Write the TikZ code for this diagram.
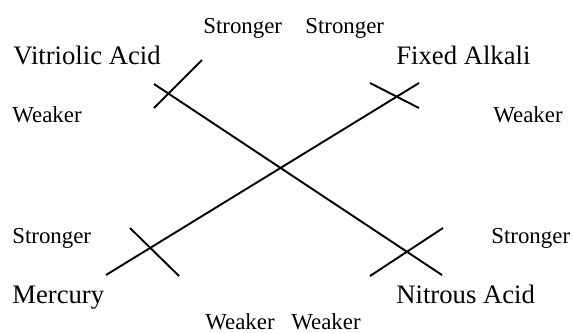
\documentclass[tikz,border=0pt]{standalone}
\usepackage{fontspec}
\setmainfont{Liberation Serif}
\usepackage{xcolor}
\definecolor{inkblack}{HTML}{000000}

\begin{document}
\begin{tikzpicture}[x=0.525pt,y=-0.525pt,
    bigname/.style={anchor=base west,inner sep=0pt,text=inkblack,
      font=\fontsize{14}{16}\selectfont},
    smallword/.style={anchor=base west,inner sep=0pt,text=inkblack,
      font=\fontsize{12}{14}\selectfont},
    affline/.style={draw=inkblack,line width=1pt}]
  % Page in reference pixels, y runs downwards.
  \useasboundingbox (0,0) rectangle (572,332);

  % Substance names at the four corners.
  \foreach \nm/\x/\y/\t in {vitriolic/13/64/Vitriolic Acid,
      alkali/396/64/Fixed Alkali,mercury/12/303/Mercury,
      nitrous/396/303/Nitrous Acid} {
    \node[bigname] (\nm) at (\x,\y) {\t};
  }

  % Stronger / weaker marks.
  \foreach \nm/\x/\y/\t in {strtl/203/33/Stronger,strtr/305/33/Stronger,
      weakl/12/122/Weaker,weakr/493/122/Weaker,
      strbl/12/243/Stronger,strbr/491/243/Stronger,
      weakbl/205/329/Weaker,weakbr/291/329/Weaker} {
    \node[smallword] (\nm) at (\x,\y) {\t};
  }

  % End points of the two long lines.
  \coordinate (vitEnd) at (154,84);
  \coordinate (nitEnd) at (442,275);
  \coordinate (merEnd) at (106,275);
  \coordinate (alkEnd) at (419,83);
  \draw[affline] (vitEnd) -- (nitEnd);
  \draw[affline] (merEnd) -- (alkEnd);

  % Short cross strokes near each end.
  \foreach \a/\b/\c/\d in {154/108/202/60,370/83/419/108,
      130/228/179/276,370/276/443/228} {
    \coordinate (crossA) at (\a,\b);
    \coordinate (crossB) at (\c,\d);
    \draw[affline] (crossA) -- (crossB);
  }
\end{tikzpicture}
\end{document}
